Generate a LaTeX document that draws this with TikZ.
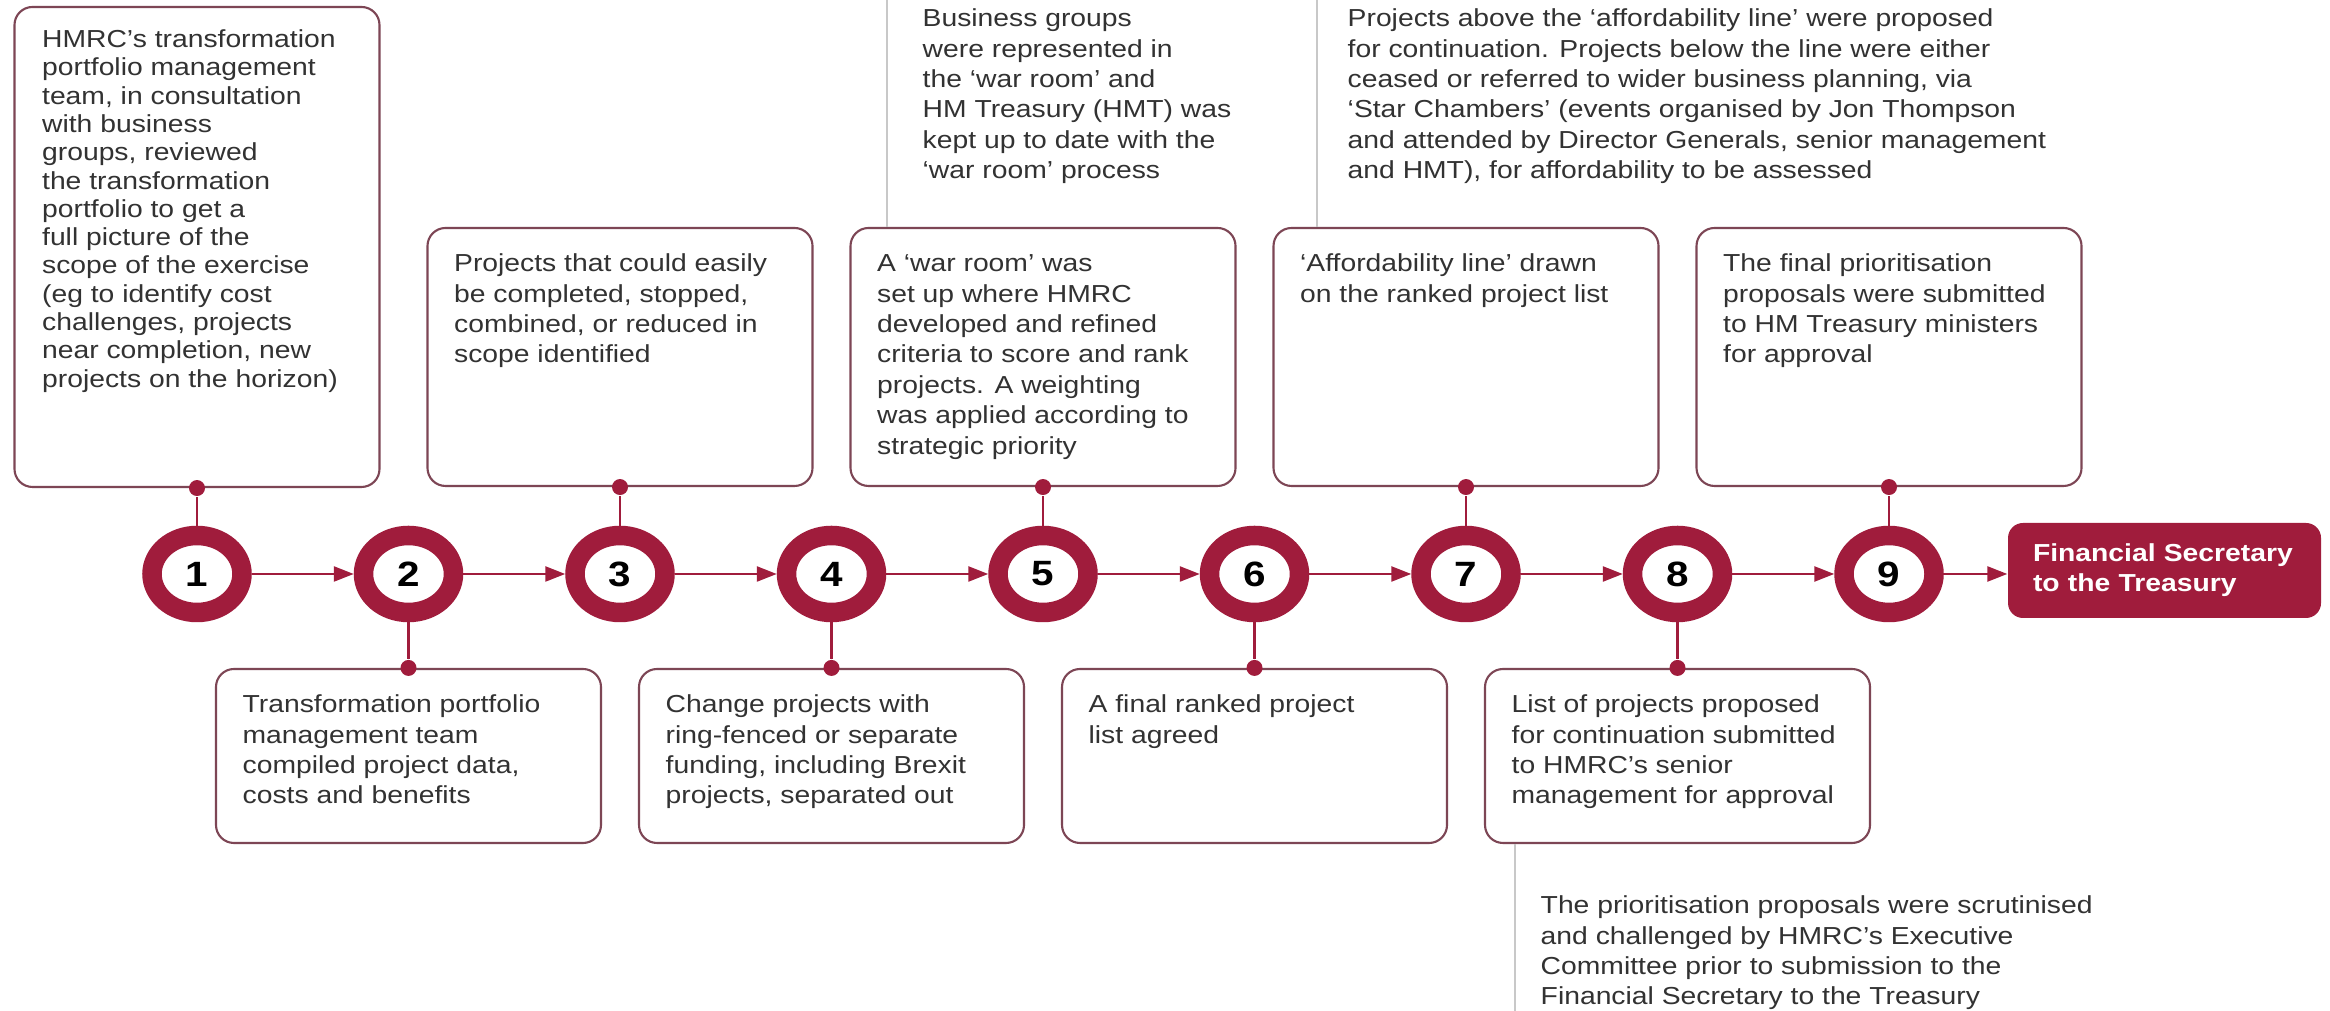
\documentclass[tikz,border=0pt]{standalone}
\usepackage{fontspec}
\setmainfont{Liberation Sans}[FakeStretch=1.15]
\usetikzlibrary{shapes.geometric,arrows.meta}

\definecolor{hmred}{RGB}{160,28,60}
\definecolor{cardline}{RGB}{125,70,85}
\definecolor{leadgrey}{RGB}{200,200,200}
\definecolor{txtgrey}{RGB}{50,50,50}

\begin{document}
\begin{tikzpicture}[
	every node/.style={font=\fontsize{7}{8.65}\selectfont, text=txtgrey},
	ring/.style={ellipse, draw=hmred, fill=white, line width=0.195cm, minimum width=0.9cm, minimum height=0.77cm, inner sep=0pt, outer sep=0.0975cm, font=\fontsize{10}{12}\selectfont\bfseries, text=black},
	card/.style={draw=cardline, line width=0.6pt, rounded corners=0.18cm, minimum width=3.85cm, inner sep=0pt},
	note/.style={anchor=north west, align=left, inner sep=0pt},
	dot/.style={circle, fill=hmred, minimum size=0.16cm, inner sep=0pt},
	stub/.style={hmred, line width=0.7pt},
	flow/.style={hmred, line width=0.7pt, -{Triangle[length=0.2cm, width=0.15cm]}},
	lead/.style={leadgrey, line width=0.45pt}
]
	\path[use as bounding box, fill=white] (0,0) rectangle (23.30,10.11);

	% numbered steps
	\foreach \i in {1,...,9}
		\node[ring] (c\i) at ({1.97+2.115*(\i-1)},4.37) {\i};
	\node[fill=hmred, rounded corners=0.15cm, text width=2.63cm, align=left, minimum height=0.95cm, inner xsep=0.25cm, inner ysep=0pt, font=\fontsize{7}{8.5}\selectfont\bfseries, text=white] (fst) at (21.645,4.405) {Financial Secretary\\to the Treasury};
	\foreach \i [evaluate=\i as \j using int(\i+1)] in {1,...,8}
		\draw[flow] (c\i) -- (c\j);
	\draw[flow] (c9) -- (c9 -| fst.west);

	% cards above and below the line
	\node[card, minimum width=3.65cm, minimum height=4.80cm] (b1) at (c1 |- 0,7.64) {};
	\foreach \i in {3,5,7,9}
		\node[card, minimum height=2.58cm] (b\i) at (c\i |- 0,6.54) {};
	\foreach \i in {2,4,6,8}
		\node[card, minimum height=1.74cm] (b\i) at (c\i |- 0,2.55) {};

	\foreach \i in {1,3,5,7,9} {
		\node[dot] (d\i) at (b\i.south) {};
		\draw[stub] (c\i) -- (d\i);
	}
	\foreach \i in {2,4,6,8} {
		\node[dot] (d\i) at (b\i.north) {};
		\draw[stub] (c\i) -- (d\i);
	}

	% card texts
	\node[note, font=\fontsize{7}{8.05}\selectfont] (t1) at ([xshift=0.28cm,yshift=-0.212cm]b1.north west) {\strut HMRC’s transformation\\portfolio management\\team, in consultation\\with business\\groups, reviewed\\the transformation\\portfolio to get a\\full picture of the\\scope of the exercise\\(eg to identify cost\\challenges, projects\\near completion, new\\projects on the horizon)};
	\node[note] (t2) at ([xshift=0.27cm,yshift=-0.227cm]b2.north west) {\strut Transformation portfolio\\management team\\compiled project data,\\costs and benefits};
	\node[note] (t3) at ([xshift=0.27cm,yshift=-0.227cm]b3.north west) {\strut Projects that could easily\\be completed, stopped,\\combined, or reduced in\\scope identified};
	\node[note] (t4) at ([xshift=0.27cm,yshift=-0.227cm]b4.north west) {\strut Change projects with\\ring-fenced or separate\\funding, including Brexit\\projects, separated out};
	\node[note] (t5) at ([xshift=0.27cm,yshift=-0.227cm]b5.north west) {\strut A ‘war room’ was\\set up where HMRC\\developed and refined\\criteria to score and rank\\projects. A weighting\\was applied according to\\strategic priority};
	\node[note] (t6) at ([xshift=0.27cm,yshift=-0.227cm]b6.north west) {\strut A final ranked project\\list agreed};
	\node[note] (t7) at ([xshift=0.27cm,yshift=-0.227cm]b7.north west) {\strut ‘Affordability line’ drawn\\on the ranked project list};
	\node[note] (t8) at ([xshift=0.27cm,yshift=-0.227cm]b8.north west) {\strut List of projects proposed\\for continuation submitted\\to HMRC’s senior\\management for approval};
	\node[note] (t9) at ([xshift=0.27cm,yshift=-0.227cm]b9.north west) {\strut The final prioritisation\\proposals were submitted\\to HM Treasury ministers\\for approval};

	% side notes with grey leaders
	\node[note] (n5) at (9.22,10.063) {\strut Business groups\\were represented in\\the ‘war room’ and\\HM Treasury (HMT) was\\kept up to date with the\\‘war room’ process};
	\node[note] (n7) at (13.47,10.063) {\strut Projects above the ‘affordability line’ were proposed\\for continuation. Projects below the line were either\\ceased or referred to wider business planning, via\\‘Star Chambers’ (events organised by Jon Thompson\\and attended by Director Generals, senior management\\and HMT), for affordability to be assessed};
	\node[note] (n8) at (15.40,1.193) {\strut The prioritisation proposals were scrutinised\\and challenged by HMRC’s Executive\\Committee prior to submission to the\\Financial Secretary to the Treasury};

	\coordinate (l5) at (8.87,10.11);
	\coordinate (l7) at (13.17,10.11);
	\coordinate (l8) at (15.15,0);
	\draw[lead] (l5) -- (l5 |- b5.north);
	\draw[lead] (l7) -- (l7 |- b7.north);
	\draw[lead] (l8) -- (l8 |- b8.south);
\end{tikzpicture}
\end{document}
